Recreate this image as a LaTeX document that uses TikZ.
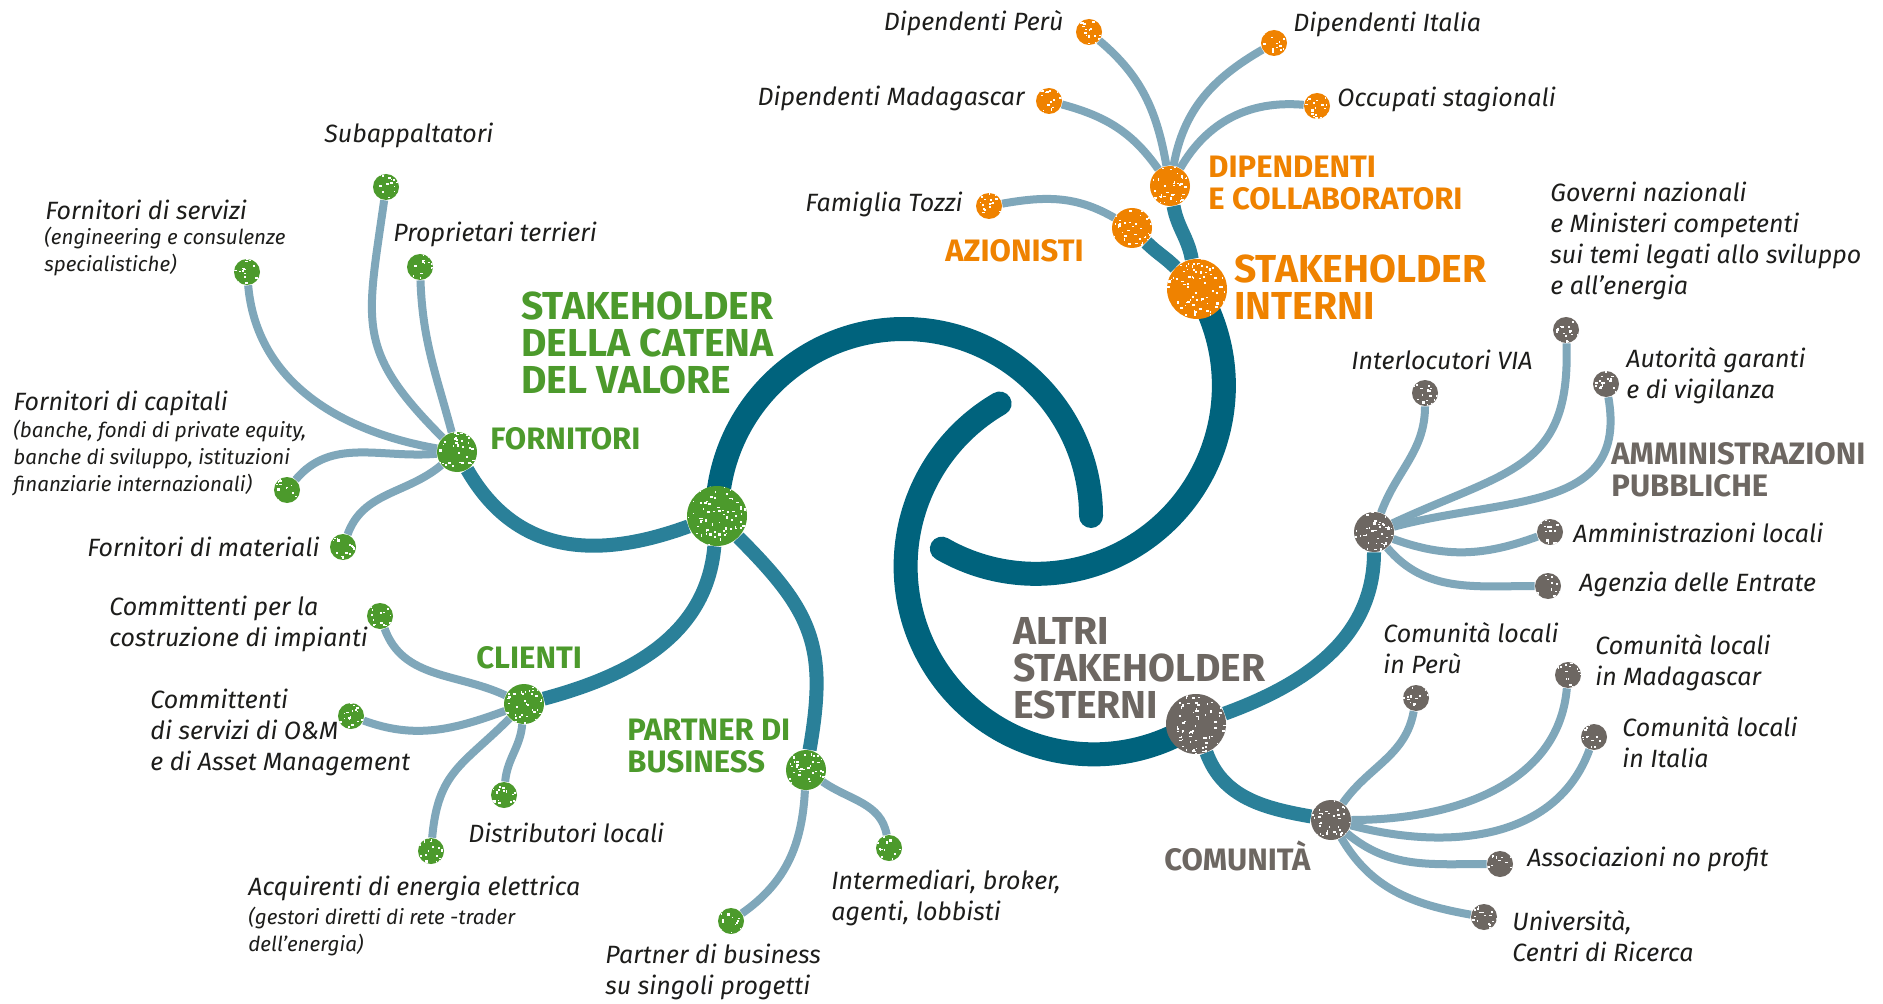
\documentclass[tikz,border=0pt]{standalone}
\usepackage{fontspec}
\setmainfont{Fira Sans}
\usetikzlibrary{backgrounds}

\definecolor{spiralc}{HTML}{00637D}
\definecolor{armc}{HTML}{2A8099}
\definecolor{twigc}{HTML}{7FA7BA}
\definecolor{chaingreen}{HTML}{4C9A2C}
\definecolor{intorange}{HTML}{EF8200}
\definecolor{extgray}{HTML}{6D6762}
\definecolor{ink}{HTML}{1D1D1B}

\tikzset{
  speck/.style 2 args={path picture={
      \foreach \k in {1,...,#1}
        \fill[white] ([shift={(rand*#2,rand*#2)}]path picture bounding box.center)
          rectangle ++(1+2*rnd,1+1.5*rnd);}},
  bigdot/.style={circle, inner sep=0, minimum size=30pt, fill=#1, speck={90}{30}},
  hubdot/.style={circle, inner sep=0, minimum size=20pt, fill=#1, speck={45}{20}},
  leafdot/.style={circle, inner sep=0, minimum size=13pt, fill=#1, speck={18}{13}},
  mainarm/.style={draw=spiralc, line width=12pt, line cap=round},
  subarm/.style={draw=armc, line width=7pt},
  twig/.style={draw=twigc, line width=4pt},
  lbl/.style={font=\fontsize{12.5}{15.5}\selectfont\itshape, text=ink, align=left, inner sep=0, anchor=west},
  note/.style={lbl, font=\fontsize{10.3}{13.5}\selectfont\itshape},
  head/.style={font=\fontsize{19.5}{18.5}\selectfont\bfseries, text=#1, align=left, inner sep=0, anchor=west},
  subhead/.style={font=\fontsize{15.5}{16}\selectfont\bfseries, text=#1, align=left, inner sep=0, anchor=west},
}

\begin{document}
\begin{tikzpicture}[x=0.5pt, y=0.5pt]
\pgfmathsetseed{17}
\useasboundingbox (0,0) rectangle (1883,1003);

% big nodes
\node (chain) [bigdot=chaingreen] at (717,487) {};
\node (si) [bigdot=intorange] at (1197,714) {};
\node (ae) [bigdot=extgray] at (1196,279) {};

% hubs
\node (fornitori) [hubdot=chaingreen] at (457,551) {};
\node (clienti) [hubdot=chaingreen] at (524,299) {};
\node (partner) [hubdot=chaingreen] at (806,233) {};
\node (dipendenti) [hubdot=intorange] at (1170,817) {};
\node (azionisti) [hubdot=intorange] at (1132,775) {};
\node (ap) [hubdot=extgray] at (1374,471) {};
\node (comunita) [hubdot=extgray] at (1331,183) {};

% leaves
\node (subapp) [leafdot=chaingreen] at (386,816) {};
\node (servizi) [leafdot=chaingreen] at (247,731) {};
\node (proprietari) [leafdot=chaingreen] at (420,736) {};
\node (capitali) [leafdot=chaingreen] at (287,513) {};
\node (materiali) [leafdot=chaingreen] at (343,456) {};
\node (commimp) [leafdot=chaingreen] at (380,387) {};
\node (commom) [leafdot=chaingreen] at (351,287) {};
\node (distrib) [leafdot=chaingreen] at (504,208) {};
\node (acquirenti) [leafdot=chaingreen] at (431,152) {};
\node (partnerb) [leafdot=chaingreen] at (731,82) {};
\node (intermed) [leafdot=chaingreen] at (889,155) {};
\node (dipperu) [leafdot=intorange] at (1089,971) {};
\node (dipita) [leafdot=intorange] at (1274,960) {};
\node (dipmad) [leafdot=intorange] at (1049,902) {};
\node (occupati) [leafdot=intorange] at (1317,897) {};
\node (tozzi) [leafdot=intorange] at (989,797) {};
\node (governi) [leafdot=extgray] at (1566,673) {};
\node (via) [leafdot=extgray] at (1425,610) {};
\node (autorita) [leafdot=extgray] at (1606,619) {};
\node (amlocali) [leafdot=extgray] at (1550,471) {};
\node (agenzia) [leafdot=extgray] at (1548,417) {};
\node (comperu) [leafdot=extgray] at (1416,305) {};
\node (commad) [leafdot=extgray] at (1568,328) {};
\node (comita) [leafdot=extgray] at (1594,266) {};
\node (associazioni) [leafdot=extgray] at (1500,139) {};
\node (universita) [leafdot=extgray] at (1484,86) {};

% group titles
\node (chain-t) [head=chaingreen] at (521,660) {STAKEHOLDER\\DELLA CATENA\\DEL VALORE};
\node (si-t) [head=intorange] at (1234,716) {STAKEHOLDER\\INTERNI};
\node (ae-t) [head=extgray] at (1013,335) {ALTRI\\STAKEHOLDER\\ESTERNI};
\node (fornitori-t) [subhead=chaingreen] at (490,564) {FORNITORI};
\node (clienti-t) [subhead=chaingreen] at (476,345) {CLIENTI};
\node (partner-t) [subhead=chaingreen] at (627,257) {PARTNER DI\\BUSINESS};
\node (dipendenti-t) [subhead=intorange] at (1208,820) {DIPENDENTI\\E COLLABORATORI};
\node (azionisti-t) [subhead=intorange] at (945,752) {AZIONISTI};
\node (ap-t) [subhead=extgray] at (1611,533) {AMMINISTRAZIONI\\PUBBLICHE};
\node (comunita-t) [subhead=extgray] at (1164,147) {COMUNITÀ};

% leaf labels
\node (subapp-l) [lbl] at (324,868) {Subappaltatori};
\node (servizi-l) [lbl] at (45,793) {Fornitori di servizi};
\node (servizi-n) [note] at (44,751) {(engineering e consulenze\\specialistiche)};
\node (proprietari-l) [lbl] at (393,769) {Proprietari terrieri};
\node (capitali-l) [lbl] at (13,600) {Fornitori di capitali};
\node (capitali-n) [note] at (13,545) {(banche, fondi di private equity,\\banche di sviluppo, istituzioni\\finanziarie internazionali)};
\node (materiali-l) [lbl, anchor=east] at (320,456) {Fornitori di materiali};
\node (commimp-l) [lbl] at (109,379) {Committenti per la\\costruzione di impianti};
\node (commom-l) [lbl] at (150,271) {Committenti\\di servizi di O\&M\\e di Asset Management};
\node (distrib-l) [lbl] at (468,170) {Distributori locali};
\node (acquirenti-l) [lbl] at (248,115) {Acquirenti di energia elettrica};
\node (acquirenti-n) [note] at (248,72) {(gestori diretti di rete -trader\\dell’energia)};
\node (partnerb-l) [lbl] at (605,31) {Partner di business\\su singoli progetti};
\node (intermed-l) [lbl] at (831,105) {Intermediari, broker,\\agenti, lobbisti};
\node (dipperu-l) [lbl, anchor=east] at (1064,980) {Dipendenti Perù};
\node (dipmad-l) [lbl, anchor=east] at (1025,905) {Dipendenti Madagascar};
\node (tozzi-l) [lbl, anchor=east] at (963,799) {Famiglia Tozzi};
\node (dipita-l) [lbl] at (1293,979) {Dipendenti Italia};
\node (occupati-l) [lbl] at (1337,904) {Occupati stagionali};
\node (governi-l) [lbl] at (1550,762) {Governi nazionali\\e Ministeri competenti\\sui temi legati allo sviluppo\\e all’energia};
\node (via-l) [lbl] at (1351,643) {Interlocutori VIA};
\node (autorita-l) [lbl] at (1626,627) {Autorità garanti\\e di vigilanza};
\node (amlocali-l) [lbl] at (1573,470) {Amministrazioni locali};
\node (agenzia-l) [lbl] at (1579,419) {Agenzia delle Entrate};
\node (comperu-l) [lbl] at (1383,355) {Comunità locali\\in Perù};
\node (commad-l) [lbl] at (1595,340) {Comunità locali\\in Madagascar};
\node (comita-l) [lbl] at (1622,261) {Comunità locali\\in Italia};
\node (associazioni-l) [lbl] at (1527,144) {Associazioni no profit};
\node (universita-l) [lbl] at (1512,67) {Università,\\Centri di Ricerca};

\begin{pgfonlayer}{background}
  \fill[white] (0,0) rectangle (1883,1003);
  % spiral
  \draw[mainarm] (chain.center) arc[start angle=180, end angle=0, radius=187];
  \draw[mainarm] (si.center) arc[start angle=31, end angle=-120, radius=188];
  \draw[mainarm] (ae.center) arc[start angle=-57, end angle=-240, radius=188];
  % arms
  \draw[subarm] (fornitori) to[out=-60, in=200, looseness=1.1] (chain);
  \draw[subarm] (chain) to[out=-95, in=15] (clienti);
  \draw[subarm] (chain) to[out=-45, in=80, looseness=1.2] (partner);
  \draw[subarm] (dipendenti) to[out=-80, in=100] (si);
  \draw[subarm] (azionisti) to[out=-45, in=135] (si);
  \draw[subarm] (ap) to[out=-90, in=20] (ae);
  \draw[subarm] (ae) to[out=-70, in=170] (comunita);
  % twigs
  \draw[twig] (fornitori) to[out=135, in=-98, looseness=1.3] (subapp);
  \draw[twig] (fornitori) to[out=105, in=-88] (proprietari);
  \draw[twig] (fornitori) to[out=170, in=-85] (servizi);
  \draw[twig] (fornitori) to[out=185, in=50] (capitali);
  \draw[twig] (fornitori) to[out=220, in=70] (materiali);
  \draw[twig] (clienti) to[out=155, in=-70] (commimp);
  \draw[twig] (clienti) to[out=200, in=-20] (commom);
  \draw[twig] (clienti) to[out=-95, in=85] (distrib);
  \draw[twig] (clienti) to[out=-135, in=85, looseness=1.2] (acquirenti);
  \draw[twig] (partner) to[out=-93, in=35] (partnerb);
  \draw[twig] (partner) to[out=-35, in=100] (intermed);
  \draw[twig] (dipendenti) to[out=100, in=-40] (dipperu);
  \draw[twig] (dipendenti) to[out=125, in=-15] (dipmad);
  \draw[twig] (dipendenti) to[out=80, in=-150] (dipita);
  \draw[twig] (dipendenti) to[out=60, in=175] (occupati);
  \draw[twig] (azionisti) to[out=150, in=10] (tozzi);
  \draw[twig] (ap) to[out=70, in=-90] (via);
  \draw[twig] (ap) to[out=25, in=-88, looseness=1.3] (governi);
  \draw[twig] (ap) to[out=15, in=-80, looseness=1.2] (autorita);
  \draw[twig] (ap) to[out=-20, in=200] (amlocali);
  \draw[twig] (ap) to[out=-50, in=180] (agenzia);
  \draw[twig] (comunita) to[out=55, in=-100] (comperu);
  \draw[twig] (comunita) to[out=0, in=-95] (commad);
  \draw[twig] (comunita) to[out=-15, in=-110] (comita);
  \draw[twig] (comunita) to[out=-40, in=180] (associazioni);
  \draw[twig] (comunita) to[out=-60, in=170] (universita);
\end{pgfonlayer}
\end{tikzpicture}
\end{document}
